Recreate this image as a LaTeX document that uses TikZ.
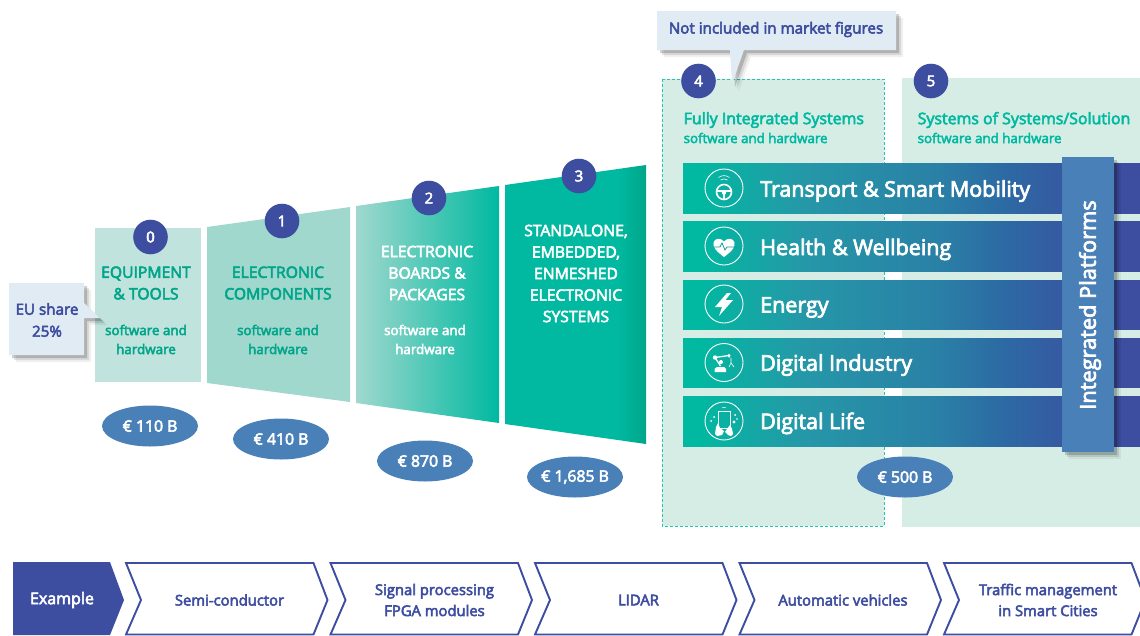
\documentclass[tikz,border=0pt]{standalone}
\usepackage{fontspec}
\setmainfont{Open Sans}
\newfontfamily\semib[FakeBold=3.5]{Open Sans}
\usetikzlibrary{positioning,shapes.geometric,shadows}
\definecolor{navy}{HTML}{3D4DA0}
\definecolor{steel}{HTML}{4A80B8}
\definecolor{teal}{HTML}{00B9A0}
\definecolor{tealdark}{HTML}{00A58A}
\definecolor{mintpale}{HTML}{C0E4DD}
\definecolor{mint}{HTML}{A0D8CE}
\definecolor{mintback}{HTML}{D6EDE6}
\definecolor{notefill}{HTML}{E1EBF3}
\definecolor{barone}{HTML}{2598A8}
\definecolor{bartwo}{HTML}{2A80A6}
\definecolor{barthree}{HTML}{2C6AA4}
\pgfdeclarehorizontalshading{barshade}{100bp}{color(0bp)=(teal); color(26.5bp)=(teal); color(38bp)=(barone); color(53bp)=(bartwo); color(60bp)=(barthree); color(71.5bp)=(navy); color(100bp)=(navy)}
\pgfdeclarehorizontalshading{standshade}{100bp}{color(0bp)=(teal); color(65bp)=(teal); color(75bp)=(tealdark); color(100bp)=(tealdark)}
\tikzset{
  softshadow/.style = {drop shadow = {shadow xshift = 7pt, shadow yshift = -7pt, opacity = .06, fill = black}, drop shadow = {shadow xshift = 5pt, shadow yshift = -5pt, opacity = .1, fill = black}, drop shadow = {shadow xshift = 3pt, shadow yshift = -3pt, opacity = .18, fill = black}},
  numdot/.style = {circle, fill = navy, text = white, minimum size = 34.6pt, inner sep = 0pt, font = \semib\fontsize{15}{16}\selectfont},
  valuedot/.style = {ellipse, fill = steel, text = white, minimum width = 96pt, minimum height = 41pt, inner sep = 0pt, font = \semib\fontsize{15.8}{16}\selectfont},
  stagetitle/.style = {align = center, font = \semib\fontsize{15.7}{21.5}\selectfont},
  stagesub/.style = {align = center, font = \semib\fontsize{13.4}{19}\selectfont},
  grouptitle/.style = {anchor = west, inner sep = 0pt, text = teal, font = \semib\fontsize{15.9}{18}\selectfont},
  groupsub/.style = {anchor = west, inner sep = 0pt, text = teal, font = \semib\fontsize{13.3}{15}\selectfont},
  barlabel/.style = {anchor = base west, inner sep = 0pt, text = white, font = \semib\fontsize{21.5}{24}\selectfont},
  iconring/.style = {circle, draw = white, line width = .9pt, minimum size = 38pt, inner sep = 0pt},
  icondraw/.style = {draw = white, line width = .9pt},
  chevron/.style = {draw = navy, line width = 1.9pt, fill = white, line join = miter},
  chevlabel/.style = {align = center, text = navy, font = \semib\fontsize{14.8}{21}\selectfont},
  notetext/.style = {align = center, text = navy, font = \semib\fontsize{15.2}{22}\selectfont}
}
\begin{document}
\begin{tikzpicture}[x = 1pt, y = -1pt]
\useasboundingbox (0,0) rectangle (1140,635);

\fill[mintpale] (95,228) -- (201,228) -- (201,382) -- (95,382) -- cycle;
\fill[mint] (207,227) -- (350,207) -- (350,402) -- (207,383) -- cycle;
\shade[left color = mint, right color = teal] (356,206) -- (499,186) -- (499,423) -- (356,403) -- cycle;
\shade[shading = standshade] (505,185) -- (646,165) -- (646,444) -- (505,424) -- cycle;

\node[numdot] (zero) at (150.5,237) {0};
\node[numdot] (one) at (282,221) {1};
\node[numdot] (two) at (429,198) {2};
\node[numdot] (three) at (579,176) {3};

\node[stagetitle, text = tealdark] (tools) at (146,283) {EQUIPMENT\\\& TOOLS};
\node[stagesub, text = tealdark] (toolssub) at (146,339.5) {software and\\hardware};
\node[stagetitle, text = tealdark] (comps) at (278,283) {ELECTRONIC\\COMPONENTS};
\node[stagesub, text = tealdark] (compssub) at (278,339.5) {software and\\hardware};
\node[stagetitle, text = white] (boards) at (427,273) {ELECTRONIC\\BOARDS \&\\PACKAGES};
\node[stagesub, text = white] (boardssub) at (425,339.5) {software and\\hardware};
\node[stagetitle, text = white] (standalone) at (576,273.5) {STANDALONE,\\EMBEDDED,\\ENMESHED\\ELECTRONIC\\SYSTEMS};

\node[valuedot] (valzero) at (150,426) {€ 110 B};
\node[valuedot] (valone) at (281,439) {€ 410 B};
\node[valuedot] (valtwo) at (425,461) {€ 870 B};
\node[valuedot] (valthree) at (575,477) {€ 1,685 B};

\fill[notefill, softshadow] (9,283) -- (84,283) -- (84,303) -- (100,318) -- (84,318) -- (84,355) -- (9,355) -- cycle;
\node[notetext] (eushare) at (47,320) {EU share\\25\%};

\fill[mintback] (902,78) rectangle (1140,527);
\fill[mintback] (662,79) rectangle (884,526);
\draw[draw = teal!85!white, line width = .8pt, densely dashed] (662,79) rectangle (884,526);

\fill[notefill, softshadow] (657,11) -- (896,11) -- (896,50) -- (744,50) -- (732,84) -- (730,50) -- (657,50) -- cycle;
\node[notetext] (notincl) at (776,29.5) {Not included in market figures};

\node[numdot] (four) at (698.5,81) {4};
\node[numdot] (five) at (931,81) {5};

\node[grouptitle] (fully) at (683.5,120) {Fully Integrated Systems};
\node[groupsub] (fullysub) at (683.5,138) {software and hardware};
\node[grouptitle] (sos) at (917.5,120) {Systems of Systems/Solution};
\node[groupsub] (sossub) at (917.5,138) {software and hardware};

\shade[shading = barshade] (683,163) rectangle (1140,213);
\shade[shading = barshade] (683,221) rectangle (1140,271);
\shade[shading = barshade] (683,280) rectangle (1140,329);
\shade[shading = barshade] (683,338) rectangle (1140,387);
\shade[shading = barshade] (683,396) rectangle (1140,446);

\node[barlabel] (transport) at (760,196.7) {Transport \& Smart Mobility};
\node[barlabel] (health) at (760,255) {Health \& Wellbeing};
\node[barlabel] (energy) at (760,312.5) {Energy};
\node[barlabel] (industry) at (760,370.7) {Digital Industry};
\node[barlabel] (life) at (760,429) {Digital Life};

\node[iconring] (wheel) at (724,188) {};
\node[iconring] (heart) at (724,246) {};
\node[iconring] (bolt) at (724,304) {};
\node[iconring] (robot) at (724,362.5) {};
\node[iconring] (tablet) at (724,421) {};

\draw[icondraw, line width = 1.6pt] (724,192) circle (7.5);
\fill[white] (724,192.5) circle (2.2);
\draw[icondraw, line width = 1.4pt] (717,191) -- (731,191) (724,193) -- (724,199);
\draw[icondraw, line width = .6pt] (720.5,180) .. controls (722.5,178.5) and (725.5,178.5) .. (727.5,180);
\draw[icondraw, line width = .6pt] (718.5,177.5) .. controls (722,175) and (726,175) .. (729.5,177.5);
\fill[white] (724,257) .. controls (716,251) and (712.5,247) .. (713.5,242.5) .. controls (714.5,238) and (721,237.5) .. (724,241.5) .. controls (727,237.5) and (733.5,238) .. (734.5,242.5) .. controls (735.5,247) and (732,251) .. (724,257) -- cycle;
\draw[draw = teal!70!navy, line width = .8pt] (714,247) -- (720,247) -- (722,243) -- (725,250) -- (727,247) -- (737,247);
\fill[white] (727,293) -- (715,307) -- (722,307) -- (719,316) -- (733,300) -- (725.5,300) -- (731,293) -- cycle;
\fill[white] (714.5,372) -- (714.5,369) -- (717,367) -- (724,367) -- (726,369) -- (726,372) -- cycle;
\draw[icondraw, line width = 1.3pt] (720.5,366) -- (715,357.5) -- (729,355.5) -- (729.5,357.5);
\fill[white] (715,357.5) circle (2.2) (721,362) circle (2) (729,355.5) circle (1.6);
\draw[icondraw, line width = .6pt] (731,358) -- (731,363) -- (729,367) (731,363) -- (734,367);
\draw[icondraw, line width = .8pt] (718,411) rectangle (730,428);
\fill[white] (715,434) -- (716,427) -- (718,423) -- (720,428) -- (724,431) -- (722,435) -- (717,436) -- cycle;
\fill[white] (733,434) -- (732,429) -- (730,425) -- (727,429) -- (725,432) -- (728,435) -- (731,436) -- cycle;
\fill[white] (714,417) circle (1) (711,421) circle (1) (735,415) circle (1) (734,422) circle (1.7) (737,419) circle (.8);
\draw[icondraw, line width = .5pt] (722,408) .. controls (723,407) and (725,407) .. (726,408);

\fill[steel, softshadow] (1062,157) rectangle (1114,452);
\node[rotate = 90, text = white, font = \semib\fontsize{21.8}{24}\selectfont] (platforms) at (1090,305) {Integrated Platforms};

\node[valuedot] (valfour) at (905,477) {€ 500 B};

\fill[navy] (13,562) -- (110,562) -- (124,600) -- (110,635) -- (13,635) -- cycle;
\node[chevlabel, text = white, font = \semib\fontsize{16}{21}\selectfont] (example) at (62,600) {Example};
\draw[chevron] (126,563) -- (313.5,563) -- (327.5,600) -- (313.5,634.5) -- (126,634.5) -- (141,600) -- cycle;
\node[chevlabel] (semi) at (229.5,600) {Semi-conductor};
\draw[chevron] (330.5,563) -- (518,563) -- (532,600) -- (518,634.5) -- (330.5,634.5) -- (345.5,600) -- cycle;
\node[chevlabel] (signal) at (434.5,600) {Signal processing\\FPGA modules};
\draw[chevron] (535,563) -- (722.5,563) -- (736.5,600) -- (722.5,634.5) -- (535,634.5) -- (550,600) -- cycle;
\node[chevlabel] (lidar) at (638.5,600) {LIDAR};
\draw[chevron] (739.5,563) -- (927,563) -- (941,600) -- (927,634.5) -- (739.5,634.5) -- (754.5,600) -- cycle;
\node[chevlabel] (vehicles) at (843,600) {Automatic vehicles};
\draw[chevron] (944,563) -- (1131.5,563) -- (1145.5,600) -- (1131.5,634.5) -- (944,634.5) -- (959,600) -- cycle;
\node[chevlabel] (traffic) at (1048,600) {Traffic management\\in Smart Cities};
\end{tikzpicture}
\end{document}
